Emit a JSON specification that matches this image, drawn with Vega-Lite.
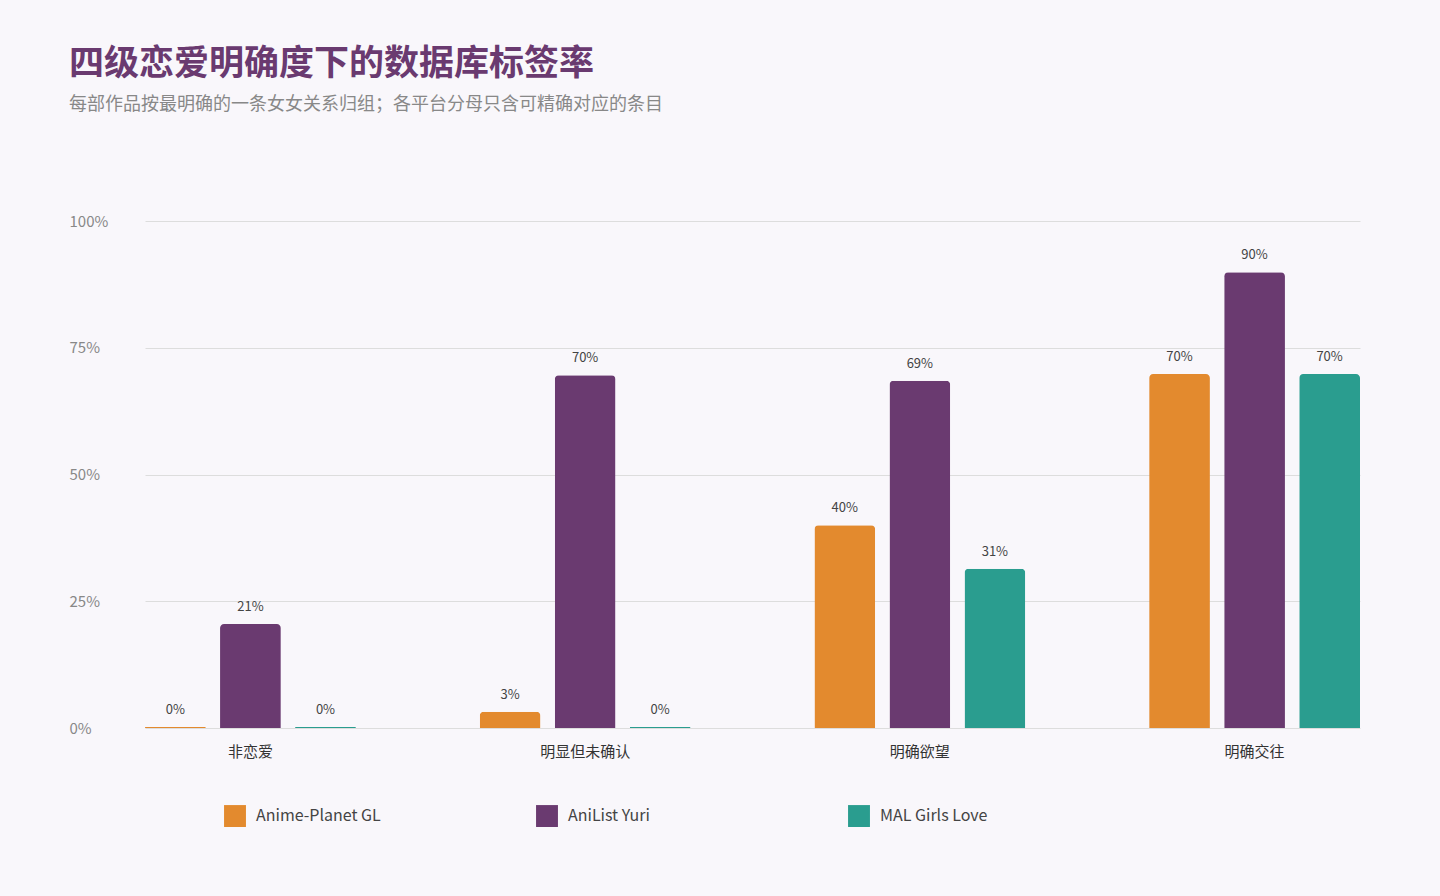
{
"$schema":"https://vega.github.io/schema/vega-lite/v6.json",
"width":1215,"height":507,
"autosize":"none",
"padding":{"left":145,"top":221,"right":80,"bottom":168},
"background":"#F9F7FB",
"config":{"font":"Noto Sans CJK SC","view":{"stroke":null}},
"title":{"text":"四级恋爱明确度下的数据库标签率","subtitle":"每部作品按最明确的一条女女关系归组；各平台分母只含可精确对应的条目","anchor":"start","frame":"group","dx":-76,"offset":100,"fontSize":35,"fontWeight":"bold","color":"#6A3A70","subtitleFontSize":18,"subtitleColor":"#888888","subtitlePadding":14},
"data":{"values":[
{"cat":"非恋爱","src":"Anime-Planet GL","value":0.002,"label":"0%"},
{"cat":"非恋爱","src":"AniList Yuri","value":0.205,"label":"21%"},
{"cat":"非恋爱","src":"MAL Girls Love","value":0.002,"label":"0%"},
{"cat":"明显但未确认","src":"Anime-Planet GL","value":0.032,"label":"3%"},
{"cat":"明显但未确认","src":"AniList Yuri","value":0.696,"label":"70%"},
{"cat":"明显但未确认","src":"MAL Girls Love","value":0.002,"label":"0%"},
{"cat":"明确欲望","src":"Anime-Planet GL","value":0.40,"label":"40%"},
{"cat":"明确欲望","src":"AniList Yuri","value":0.685,"label":"69%"},
{"cat":"明确欲望","src":"MAL Girls Love","value":0.314,"label":"31%"},
{"cat":"明确交往","src":"Anime-Planet GL","value":0.698,"label":"70%"},
{"cat":"明确交往","src":"AniList Yuri","value":0.899,"label":"90%"},
{"cat":"明确交往","src":"MAL Girls Love","value":0.698,"label":"70%"}
]},
"encoding":{
"x":{"field":"cat","type":"nominal","sort":null,"scale":{"paddingInner":0.37,"paddingOuter":0},"axis":{"title":null,"labelAngle":0,"ticks":false,"domain":false,"labelFontSize":15,"labelColor":"#333333","labelPadding":16}},
"xOffset":{"field":"src","sort":null,"scale":{"paddingInner":0.19}},
"y":{"field":"value","type":"quantitative","scale":{"domain":[0,1]},"axis":{"title":null,"format":".0%","values":[0,0.25,0.5,0.75,1],"ticks":false,"domain":false,"labelAlign":"left","labelPadding":76,"labelFontSize":15,"labelColor":"#888888","gridColor":"#DDDDDD"}}
},
"layer":[
{"mark":{"type":"bar","cornerRadiusTopLeft":4,"cornerRadiusTopRight":4},
"encoding":{"color":{"field":"src","sort":null,"scale":{"domain":["Anime-Planet GL","AniList Yuri","MAL Girls Love"],"range":["#E38A2E","#6A3A70","#2A9D8F"]},
"legend":{"title":null,"orient":"none","legendX":79,"legendY":584,"direction":"horizontal","columns":3,"gridAlign":"all","columnPadding":155,"symbolType":"square","symbolSize":480,"symbolStrokeWidth":0,"symbolOpacity":1,"labelFontSize":16,"labelColor":"#444444","labelOffset":10}}}},
{"mark":{"type":"text","dy":-10,"baseline":"bottom","fontSize":13,"color":"#444444"},"encoding":{"text":{"field":"label"}}},
{"mark":{"type":"rule","color":"#A86CB8","strokeWidth":2,"clip":false},"data":{"values":[{"y":1.162}]},"encoding":{"y":{"datum":1.162},"x":{"value":-76},"x2":{"value":1226}}}
]
}
